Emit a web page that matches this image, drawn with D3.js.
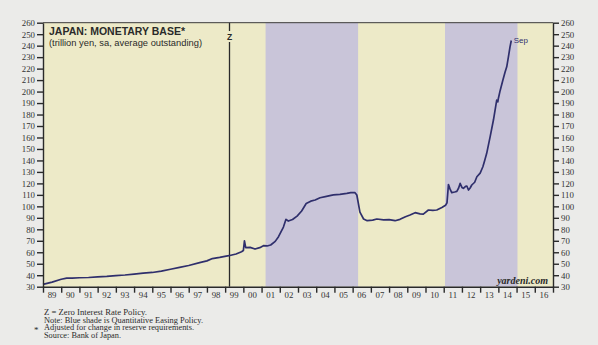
<!DOCTYPE html>
<html>
<head>
<meta charset="utf-8">
<script src="https://cdn.jsdelivr.net/npm/d3@7"></script>
<style>
  html, body { margin: 0; padding: 0; background: #ebebe9; }
  svg { display: block; }
</style>
</head>
<body>
<svg id="chart" width="598" height="345"></svg>
<script>
// Japan monetary base, trillion yen (decimal year, value)
const dates = [
  1989.0, 1989.5, 1990.0, 1990.3, 1990.6, 1991.0, 1991.5, 1992.0, 1992.5, 1993.0,
  1993.5, 1994.0, 1994.5, 1995.0, 1995.5, 1996.0, 1996.5, 1997.0, 1997.6, 1998.0,
  1998.3, 1998.7, 1999.2, 1999.6, 1999.9, 2000.0, 2000.06, 2000.13, 2000.37, 2000.64,
  2000.9, 2001.1, 2001.3, 2001.5, 2001.75, 2001.93, 2002.2, 2002.34, 2002.47, 2002.7,
  2002.95, 2003.2, 2003.45, 2003.7, 2003.94, 2004.21, 2004.5, 2004.94, 2005.3, 2005.68,
  2005.9, 2006.13, 2006.23, 2006.4, 2006.6, 2006.8, 2007.1, 2007.33, 2007.7, 2008.0,
  2008.33, 2008.6, 2008.9, 2009.15, 2009.43, 2009.7, 2009.88, 2010.16, 2010.4, 2010.62,
  2010.9, 2011.1, 2011.18, 2011.26, 2011.35, 2011.44, 2011.6, 2011.72, 2011.82, 2011.9,
  2012.0, 2012.08, 2012.2, 2012.27, 2012.36, 2012.45, 2012.54, 2012.7, 2012.82, 2013.0,
  2013.15, 2013.25, 2013.36, 2013.55, 2013.73, 2013.91, 2013.97, 2014.0, 2014.1, 2014.25,
  2014.37, 2014.46, 2014.55, 2014.64, 2014.71
];
const values = [
  32, 34, 36.5, 37.5, 37.4, 37.8, 38, 38.6, 39, 39.6,
  40.2, 41, 41.8, 42.4, 43.5, 45.2, 46.8, 48.5, 51, 52.5,
  54.5, 55.5, 57, 58.5, 60.5, 61.5, 70, 64, 64.3, 62.8,
  64, 65.7, 65.5, 66.3, 69.5, 73.6, 82, 88.7, 87.2, 88.5,
  91.5, 96, 102.5, 104.5, 105.5, 107.5, 108.5, 110, 110.5, 111.3,
  112, 111.9, 109.9, 95, 89, 87.5, 88, 89, 88.3, 88.5,
  87.5, 88.7, 91, 92.5, 94.5, 93.5, 93.3, 96.8, 96.5, 96.8,
  99, 101, 103, 119, 115, 111.9, 112.5, 113, 116, 120,
  116.5, 115.7, 117.5, 117.7, 114.2, 116, 118.6, 121, 125.8, 129,
  134.5, 140, 146.2, 160.7, 175.2, 192.6, 191, 194, 201, 210,
  217, 221.6, 230, 239, 244.5
];

// Quantitative easing periods in decimal years
const qeStart = [2001.22, 2011.07];
const qeEnd   = [2006.3, 2015.05];
const zirpDate = 1999.2;

const yTicks = d3.range(30, 261, 10);
const yearTicks = d3.range(1989, 2017);
const yearLabels = yearTicks.map(v => String(v % 100).padStart(2, "0"));

const footnotes = [
  "Z = Zero Interest Rate Policy.",
  "Note: Blue shade is Quantitative Easing Policy.",
  "Adjusted for change in reserve requirements.",
  "Source: Bank of Japan."
];
const footnoteWidths = [103, 159, 150, 77];

const svg = d3.select("#chart");
const plotL = 43, plotR = 553, plotT = 22.7, plotB = 286.7;

const x = d3.scaleLinear().domain([1989, 2017]).range([plotL, plotR]);
const y = d3.scaleLinear().domain([30, 260]).range([plotB, plotT]);

// plot background
svg.append("rect")
  .attr("x", plotL).attr("y", plotT)
  .attr("width", plotR - plotL).attr("height", plotB - plotT)
  .attr("fill", "#edeac8");

// QE shading
const qePeriods = qeStart.map((s, i) => [s, qeEnd[i]]);
svg.selectAll("rect.qe").data(qePeriods).join("rect")
  .attr("class", "qe")
  .attr("x", d => x(d[0])).attr("y", plotT)
  .attr("width", d => x(d[1]) - x(d[0]))
  .attr("height", plotB - plotT)
  .attr("fill", "#c9c5d9");

// ZIRP marker line with Z label
const zx = Math.round(x(zirpDate)) + 0.5;
svg.append("line").attr("x1", zx).attr("x2", zx)
  .attr("y1", plotT).attr("y2", 31).attr("stroke", "#2a2a2a").attr("stroke-width", 1.3);
svg.append("line").attr("x1", zx).attr("x2", zx)
  .attr("y1", 42).attr("y2", plotB).attr("stroke", "#2a2a2a").attr("stroke-width", 1.3);
svg.append("text").attr("x", zx).attr("y", 39.5)
  .attr("text-anchor", "middle")
  .attr("font-family", "Liberation Sans, Arial, sans-serif")
  .attr("font-weight", "bold").attr("font-size", 8.5)
  .attr("fill", "#2a2a2a").text("Z");

// data line
const pts = dates.map((d, i) => [d, values[i]]);
svg.append("path")
  .datum(pts)
  .attr("fill", "none")
  .attr("stroke", "#2f2f6c")
  .attr("stroke-width", 1.7)
  .attr("stroke-linejoin", "round")
  .attr("d", d3.line().x(d => x(d[0])).y(d => y(d[1])));

// last point label
const last = pts[pts.length - 1];
svg.append("text")
  .attr("x", x(last[0]) + 2.5).attr("y", y(last[1]) + 2.5)
  .attr("font-family", "Liberation Sans, Arial, sans-serif")
  .attr("font-size", 8).attr("fill", "#2f2f6c").text("Sep");

// frame
svg.append("line").attr("x1", plotL).attr("x2", plotR).attr("y1", plotT).attr("y2", plotT)
  .attr("stroke", "#3a3a3a").attr("stroke-width", 1);

// axes
const tickFont = "Liberation Serif, Times New Roman, serif";
const yLeft = svg.append("g").attr("transform", `translate(${plotL},0)`)
  .call(d3.axisLeft(y).tickValues(yTicks).tickSize(6).tickPadding(2).tickSizeOuter(0));
const yRight = svg.append("g").attr("transform", `translate(${plotR},0)`)
  .call(d3.axisRight(y).tickValues(yTicks).tickSize(6).tickPadding(2).tickSizeOuter(0));
const xAxis = svg.append("g").attr("transform", `translate(0,${plotB})`)
  .call(d3.axisBottom(x).tickValues(d3.range(1989, 2018)).tickSize(6).tickFormat("").tickSizeOuter(0));

[yLeft, yRight, xAxis].forEach(g => {
  g.selectAll("path.domain").attr("stroke", "#2a2a2a").attr("stroke-width", 1.4);
  g.selectAll(".tick line").attr("stroke", "#2a2a2a").attr("stroke-width", 1.4);
  g.selectAll("text").attr("font-family", tickFont).attr("font-size", 8.8)
    .attr("fill", "#333");
});

// year labels centred in each year
svg.append("g").selectAll("text").data(yearTicks).join("text")
  .attr("x", d => x(d + 0.5)).attr("y", plotB + 11)
  .attr("text-anchor", "middle")
  .attr("font-family", tickFont).attr("font-size", 8.8)
  .attr("fill", "#333")
  .text((d, i) => yearLabels[i]);

// titles
svg.append("text").attr("x", 49).attr("y", 35)
  .attr("font-family", "Liberation Sans, Arial, sans-serif")
  .attr("font-weight", "bold").attr("font-size", 11.5)
  .attr("textLength", 136).attr("lengthAdjust", "spacingAndGlyphs")
  .attr("fill", "#2a2a2a").text("JAPAN: MONETARY BASE*");
svg.append("text").attr("x", 49).attr("y", 46)
  .attr("font-family", "Liberation Sans, Arial, sans-serif")
  .attr("font-size", 8.8)
  .attr("textLength", 153).attr("lengthAdjust", "spacingAndGlyphs")
  .attr("fill", "#2a2a2a").text("(trillion yen, sa, average outstanding)");

// source credit
svg.append("text").attr("x", 548).attr("y", 284)
  .attr("text-anchor", "end")
  .attr("font-family", tickFont).attr("font-style", "italic").attr("font-weight", "bold")
  .attr("font-size", 10).attr("fill", "#2a2a2a").text("yardeni.com");

// footnotes
const fn = svg.append("g");
fn.selectAll("text").data(footnotes).join("text")
  .attr("x", 44).attr("y", (d, i) => 315 + i * 7.5)
  .attr("font-family", tickFont).attr("font-size", 7.8)
  .attr("textLength", (d, i) => footnoteWidths[i])
  .attr("lengthAdjust", "spacingAndGlyphs")
  .attr("fill", "#2a2a2a").text(d => d);
fn.append("text").attr("x", 34).attr("y", 332.5)
  .attr("font-family", tickFont).attr("font-size", 9)
  .attr("fill", "#2a2a2a").text("*");
</script>
</body>
</html>
